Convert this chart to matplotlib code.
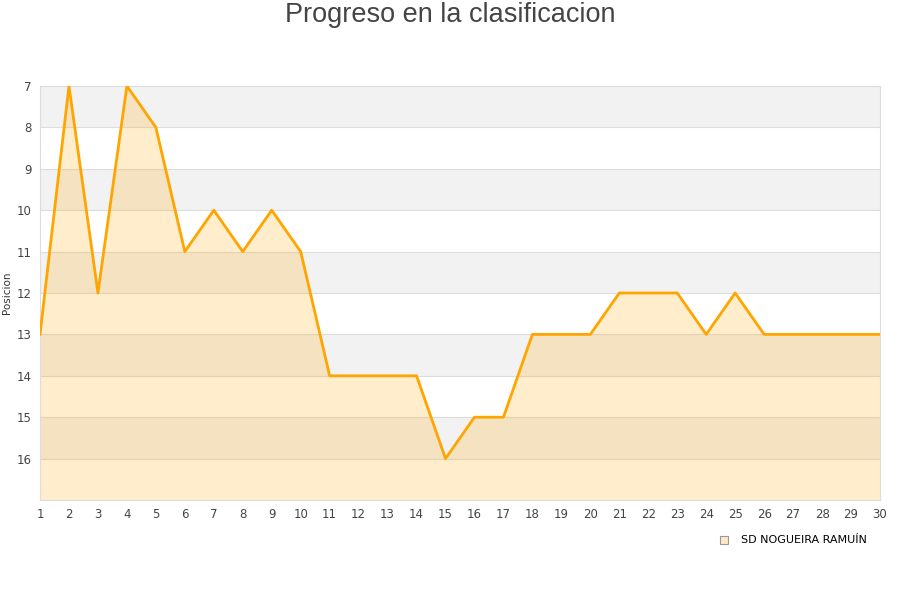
import matplotlib

matplotlib.use("Agg")
import matplotlib.pyplot as plt

jornadas = list(range(1, 31))
posiciones = [13, 7, 12, 7, 8, 11, 10, 11, 10, 11, 14, 14, 14, 14, 16,
              15, 15, 13, 13, 13, 12, 12, 12, 13, 12, 13, 13, 13, 13, 13]
y_ticks = list(range(7, 17))
equipo = "SD NOGUEIRA RAMUÍN"

fig = plt.figure(figsize=(9, 6), dpi=100)
ax = fig.add_axes([40 / 900, 1 - 500 / 600, 840 / 900, 414 / 600])

# alternating horizontal bands
for y0 in range(7, 17):
    if (y0 - 7) % 2 == 0:
        ax.axhspan(y0, y0 + 1, color="#f2f2f2", zorder=0, lw=0)
for y in range(8, 17):
    ax.axhline(y, color="#dddddd", lw=0.8, zorder=1)

ax.fill_between(jornadas, posiciones, 17, color="#ffa500", alpha=0.2,
                lw=0, zorder=2)
ax.plot(jornadas, posiciones, color="#ffa500", lw=2, zorder=3)

ax.set_xlim(1, 30)
ax.set_ylim(17, 7)
ax.set_xticks(jornadas)
ax.set_yticks(y_ticks)
ax.tick_params(axis="both", length=0, labelsize=8.5, colors="#444444", pad=6)
for s in ax.spines.values():
    s.set_color("#dddddd")
ax.set_ylabel("Posicion", fontsize=7.5, color="#333333", labelpad=3)

ax.plot([], [], "s", ms=6, mfc="#fde9c4", mec="#999999", mew=0.8,
        label=equipo)
ax.legend(loc="upper right", bbox_to_anchor=(0.99, -0.075), frameon=False,
          fontsize=8, handletextpad=0.6, borderaxespad=0)

fig.text(0.5, 0.997, "Progreso en la clasificacion", ha="center", va="top",
         fontsize=19.5, color="#444444", family="Liberation Sans")

fig.savefig("out.png", dpi=100)
